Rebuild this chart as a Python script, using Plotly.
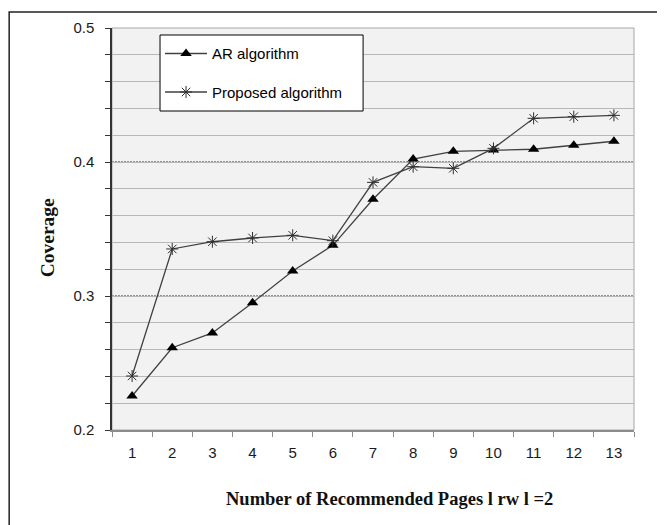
import plotly.graph_objects as go

pages = ["1", "2", "3", "4", "5", "6", "7", "8", "9", "10", "11", "12", "13"]
ar_algorithm = [0.2254, 0.2614, 0.2724, 0.2950, 0.3187, 0.3378, 0.3722,
                0.4022, 0.4080, 0.4090, 0.4095, 0.4125, 0.4155]
proposed_algorithm = [0.2403, 0.3351, 0.3405, 0.3433, 0.3453, 0.3413, 0.3848,
                      0.3965, 0.3953, 0.4102, 0.4326, 0.4338, 0.4348]
y_ticks = [0.2, 0.3, 0.4, 0.5]
y_dotted = [0.3, 0.4]

fig = go.Figure()
fig.add_trace(go.Scatter(
    x=pages, y=ar_algorithm, name="AR algorithm", mode="lines+markers",
    line=dict(color="#404040", width=1.3),
    marker=dict(symbol="triangle-up", size=10, color="black"),
    legendgroup="a"))
fig.add_trace(go.Scatter(
    x=pages, y=proposed_algorithm, name="Proposed algorithm", mode="lines+markers",
    line=dict(color="#404040", width=1.3),
    marker=dict(symbol="asterisk-open", size=10, color="#303030",
                line=dict(color="#303030", width=1)),
    legendgroup="b"))

for yv in y_dotted:
    fig.add_shape(type="line", xref="paper", yref="y", x0=0, x1=1, y0=yv, y1=yv,
                  line=dict(color="#333333", width=1, dash="2px,1px"), layer="between")

# plot area border (top/right gray)
fig.add_shape(type="rect", xref="paper", yref="paper", x0=0, x1=1, y0=0, y1=1,
              line=dict(color="#a6a6a6", width=1), layer="between")
# outer frame
fig.add_shape(type="rect", xref="paper", yref="paper", x0=-0.197, x1=1.2,
              y0=-0.3, y1=1.0398, line=dict(color="#222222", width=1.5))
# legend box
fig.add_shape(type="rect", xref="paper", yref="paper", x0=0.092, x1=0.481,
              y0=0.7935, y1=0.9826, line=dict(color="black", width=1),
              fillcolor="white", layer="above")

fig.add_annotation(text="<b>Coverage</b>", xref="paper", yref="paper",
                   x=-0.1475, y=0.478, textangle=-90, showarrow=False,
                   font=dict(family="Liberation Serif", size=19.5, color="#111111"))
fig.add_annotation(text="<b>Number of Recommended Pages l rw l =2</b>",
                   xref="paper", yref="paper", x=0.531, y=-0.172,
                   yanchor="middle", showarrow=False,
                   font=dict(family="Liberation Serif", size=18.5, color="#111111"))

fig.update_layout(
    width=657, height=517,
    margin=dict(l=104, r=31, t=20, b=95),
    paper_bgcolor="white", plot_bgcolor="#f2f2f2",
    font=dict(family="Liberation Sans", size=15, color="#1a1a1a"),
    showlegend=True,
    legend=dict(x=0.092, y=0.977, xanchor="left", yanchor="top",
                bgcolor="rgba(0,0,0,0)", borderwidth=0, itemwidth=42,
                font=dict(family="Liberation Sans", size=15, color="black"),
                tracegroupgap=16, traceorder="grouped"),
    xaxis=dict(type="category", range=[-0.5, 12.5], tickson="boundaries",
               ticks="outside", ticklen=5, tickcolor="#8c8c8c", showline=True,
               linecolor="#8c8c8c", linewidth=1.5, showgrid=False, zeroline=False,
               ticklabelstandoff=8),
    yaxis=dict(range=[0.2, 0.5], tickvals=y_ticks, ticktext=["0.2", "0.3", "0.4", "0.5"],
               ticks="outside", ticklen=5, tickcolor="#333333", showline=True,
               linecolor="#333333", linewidth=1.5, showgrid=False, zeroline=False,
               ticklabelstandoff=8,
               minor=dict(dtick=0.02, tick0=0.2, showgrid=True, gridcolor="#b8b8b8",
                          gridwidth=1.3, ticks="outside", ticklen=5, tickcolor="#333333")),
)

fig.write_html("out.html")
